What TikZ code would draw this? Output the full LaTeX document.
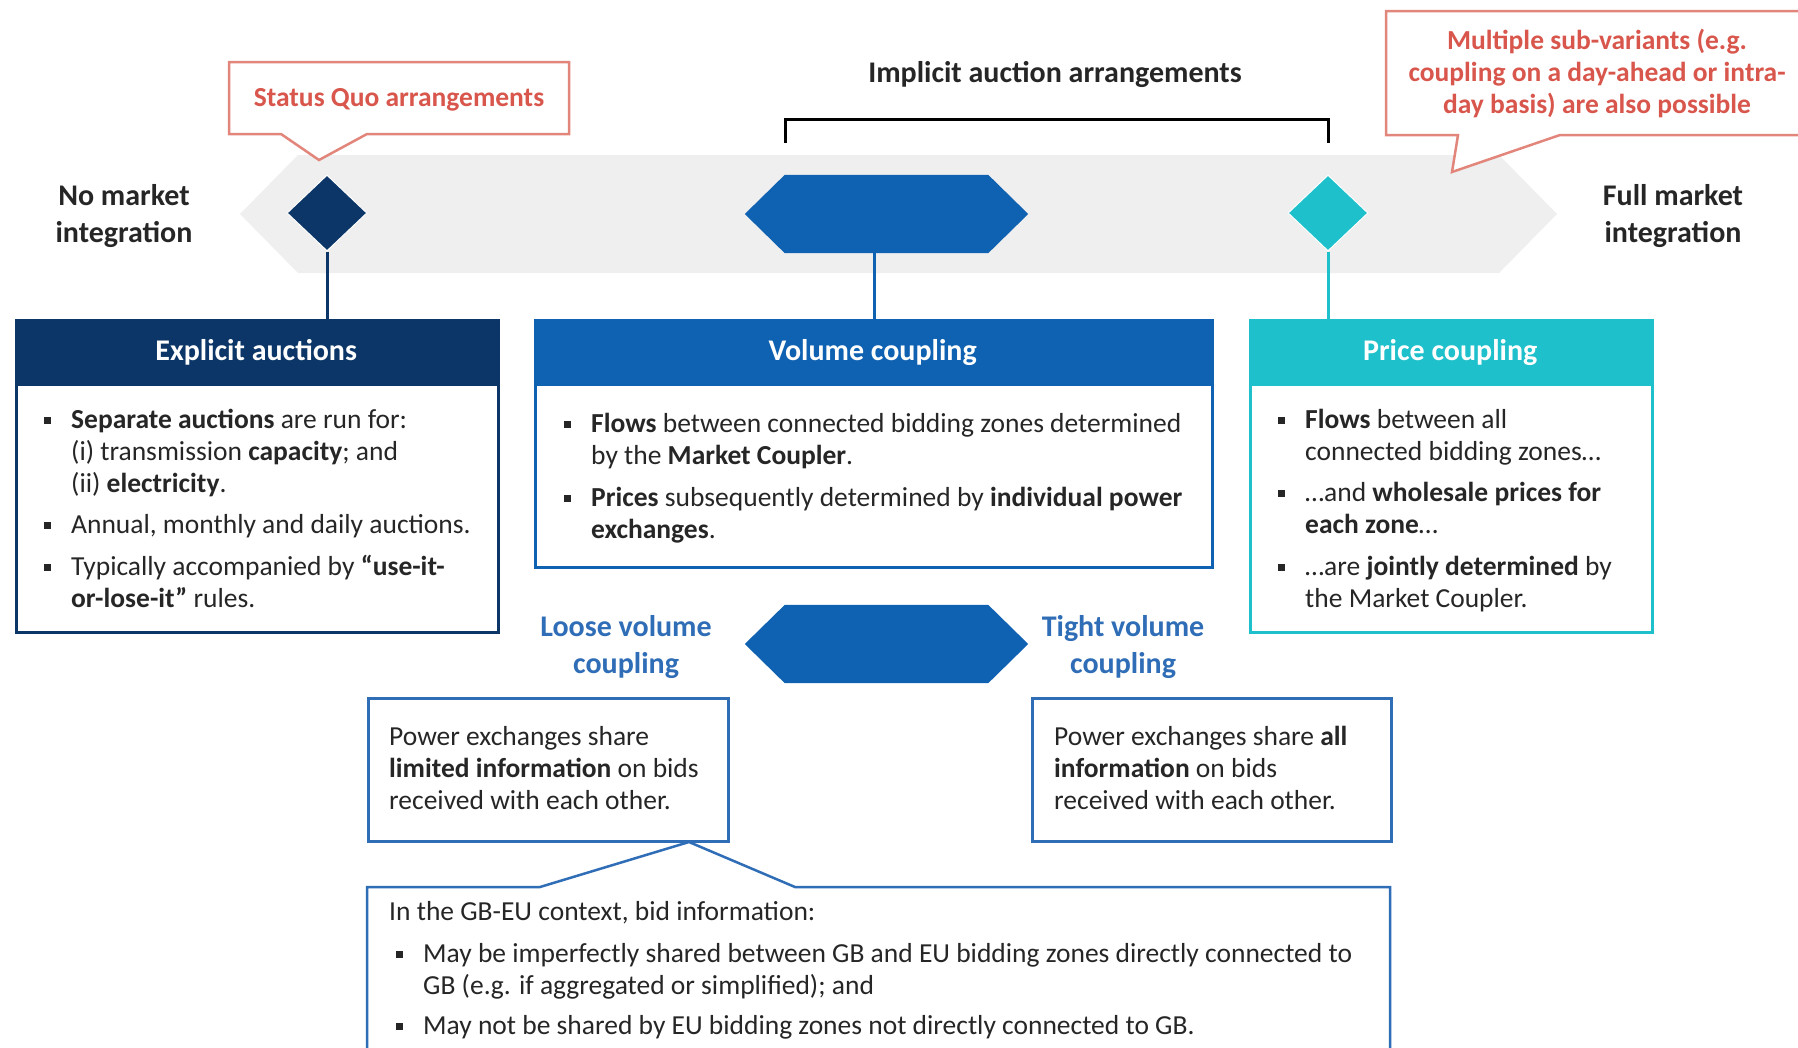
\documentclass[tikz,border=0pt]{standalone}
\usepackage{fontspec}
\setmainfont{Carlito}
\usetikzlibrary{shapes.geometric}
\definecolor{navy}{HTML}{0B3667}
\definecolor{vblue}{HTML}{0F61B1}
\definecolor{cyanc}{HTML}{1EC0CB}
\definecolor{bandgray}{HTML}{EFEFEF}
\definecolor{redtxt}{HTML}{D8564C}
\definecolor{redline}{HTML}{E2867C}
\definecolor{ltblue}{HTML}{2F6DB6}
\definecolor{txt}{HTML}{262626}
\newcommand\bul{\llap{\raisebox{0.3ex}{\rule{7pt}{7pt}}\hspace{20pt}}}
\tikzset{
  body/.style={font=\fontsize{27.5}{32}\selectfont, text=txt, inner sep=0pt, align=left, anchor=base west},
  headtxt/.style={font=\fontsize{30}{34}\selectfont\bfseries, text=white},
  boxframe/.style={draw=#1, line width=2.5pt, fill=white, inner sep=0pt, anchor=north west},
  headbar/.style={fill=#1, inner sep=0pt, anchor=north west, minimum height=67},
  marker/.style={diamond, fill=#1, draw=white, line width=1pt, minimum width=80, minimum height=76, inner sep=0pt},
  hexnode/.style={minimum width=283, minimum height=78, inner sep=0pt},
  sidelabel/.style={font=\fontsize{30}{37}\selectfont\bfseries, text=txt, align=center, inner sep=0pt},
  sublabel/.style={font=\fontsize{30}{37}\selectfont\bfseries, text=ltblue, align=center, inner sep=0pt},
  redlabel/.style={font=\fontsize{27.5}{32}\selectfont\bfseries, text=redtxt, align=center, inner sep=0pt},
  redcall/.style={draw=redline, line width=2.5pt, fill=white, line join=miter},
  link/.style={draw=#1, line width=3pt}
}
\begin{document}
\begin{tikzpicture}[x=1pt,y=-1pt]
\useasboundingbox (0,0) rectangle (1798,1047);
\begin{scope}
\clip (0,0) rectangle (1798,1047);
% progress band
\fill[bandgray] (240,214) -- (298,155) -- (1499,155) -- (1557,214) -- (1499,273) -- (298,273) -- cycle;

% callouts
\draw[redcall] (229,62) -- (569,62) -- (569,134) -- (367,134) -- (319,160) -- (281,134) -- (229,134) -- cycle;
\node[redlabel] (sq) at (399,100) {Status Quo arrangements};
\draw[redcall] (1386,11) -- (1815,11) -- (1815,135) -- (1560,135) -- (1452,172) -- (1458,135) -- (1386,135) -- cycle;
\node[redlabel] (sub) at (1597,73) {Multiple sub-variants (e.g.\\coupling on a day-ahead or intra-\\day basis) are also possible};

% bracket
\node[font=\fontsize{30}{34}\selectfont\bfseries, text=txt, inner sep=0pt] (impl) at (1055,74) {Implicit auction arrangements};
\coordinate (brL) at (785,143);
\coordinate (brR) at (1328,143);
\draw[black, line width=3pt] (brL) -- ++(0,-24) -| (brR);

% end labels
\node[sidelabel] (nomi) at (124,216) {No market\\integration};
\node[sidelabel] (fmi) at (1673,216) {Full market\\integration};

% markers
\node[marker=navy] (d1) at (327,213) {};
\node[hexnode] (hex1) at (886.5,214) {};
\fill[vblue] (hex1.west) -- ([xshift=40]hex1.north west) -- ([xshift=-40]hex1.north east) -- (hex1.east) -- ([xshift=-40]hex1.south east) -- ([xshift=40]hex1.south west) -- cycle;
\node[marker=cyanc] (d3) at (1328,213) {};

% boxes
\node[boxframe=navy, minimum width=482, minimum height=312] (b1) at (15,319) {};
\node[headbar=navy, minimum width=482] (h1) at (15,319) {};
\node[headtxt] at (h1.center) {Explicit auctions};
\node[boxframe=vblue, minimum width=677, minimum height=247] (b2) at (534,319) {};
\node[headbar=vblue, minimum width=677] (h2) at (534,319) {};
\node[headtxt] at (h2.center) {Volume coupling};
\node[boxframe=cyanc, minimum width=402, minimum height=312] (b3) at (1249,319) {};
\node[headbar=cyanc, minimum width=402] (h3) at (1249,319) {};
\node[headtxt] at (h3.center) {Price coupling};

\coordinate (hex1foot) at ([xshift=-12]hex1.south);
\draw[link=navy] (d1.south) -- (d1.south |- h1.north);
\draw[link=vblue] (hex1foot) -- (hex1foot |- h2.north);
\draw[link=cyanc] (d3.south) -- (d3.south |- h3.north);

% explicit body (anchor = baseline of last line)
\node[body] (e1) at (71,492) {\bul\textbf{Separate auctions} are run for:\\(i) transmission \textbf{capacity}; and\\(ii) \textbf{electricity}.};
\node[body] (e2) at (71,533) {\bul Annual, monthly and daily auctions.};
\node[body] (e3) at (71,607) {\bul Typically accompanied by \textbf{“use-it-}\\\textbf{or-lose-it”} rules.};

% volume body
\node[body] (v1) at (591,464) {\bul\textbf{Flows} between connected bidding zones determined\\by the \textbf{Market Coupler}.};
\node[body] (v2) at (591,538) {\bul\textbf{Prices} subsequently determined by \textbf{individual power}\\\textbf{exchanges}.};

% price body
\node[body] (p1) at (1305,460) {\bul\textbf{Flows} between all\\connected bidding zones…};
\node[body] (p2) at (1305,533) {\bul…and \textbf{wholesale prices for}\\\textbf{each zone}…};
\node[body] (p3) at (1305,607) {\bul…are \textbf{jointly determined} by\\the Market Coupler.};

% lower part
\node[hexnode] (hex2) at (886.5,644) {};
\fill[vblue] (hex2.west) -- ([xshift=40]hex2.north west) -- ([xshift=-40]hex2.north east) -- (hex2.east) -- ([xshift=-40]hex2.south east) -- ([xshift=40]hex2.south west) -- cycle;
\node[sublabel] (loose) at (626,647) {Loose volume\\coupling};
\node[sublabel] (tight) at (1123,647) {Tight volume\\coupling};

\draw[draw=ltblue, line width=2.5pt, fill=white] (367,1070) -- (367,887) -- (540,887) -- (689,842) -- (795,887) -- (1390,887) -- (1390,1070);
\node[boxframe=ltblue, minimum width=360, minimum height=143] (lb) at (367,697) {};
\node[boxframe=ltblue, minimum width=359, minimum height=143] (tb) at (1031,697) {};

\node[body] (lt) at (389,809) {Power exchanges share\\\textbf{limited information} on bids\\received with each other.};
\node[body] (tt) at (1054,809) {Power exchanges share \textbf{all}\\\textbf{information} on bids\\received with each other.};

\node[body] (g0) at (389,920) {In the GB-EU context, bid information:};
\node[body] (g1) at (423,994) {\bul May be imperfectly shared between GB and EU bidding zones directly connected to\\GB (e.g. if aggregated or simplified); and};
\node[body] (g2) at (423,1034) {\bul May not be shared by EU bidding zones not directly connected to GB.};
\end{scope}
\end{tikzpicture}
\end{document}
